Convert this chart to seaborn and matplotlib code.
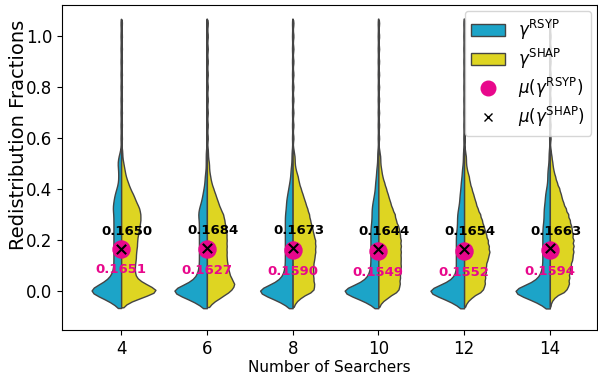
import numpy as np
import pandas as pd
import seaborn as sns
import matplotlib.pyplot as plt
from matplotlib.patches import Patch
from matplotlib.lines import Line2D

# Categories
searchers = [4, 6, 8, 10, 12, 14]

# Value levels used to rebuild the sample distributions
levels = [-0.05, -0.025, 0.0, 0.025, 0.05, 0.075, 0.1, 0.125, 0.15, 0.175,
          0.2, 0.225, 0.25, 0.275, 0.3, 0.325, 0.35, 0.375, 0.4, 0.425,
          0.45, 0.475, 0.5, 0.525, 0.55]
tail_levels = [0.6, 0.65, 0.7, 0.75, 0.8, 0.85, 0.9, 0.95, 1.0, 1.05]

# Counts per level, gamma RSYP (blue half)
rsyp_counts = [
    [8, 21, 38, 22, 12, 9, 8, 8, 8, 8, 8, 8, 8, 8, 8, 9, 8, 7, 5, 3, 3, 3, 4, 3, 1],
    [8, 20, 37, 18, 10, 8, 7, 7, 7, 7, 7, 7, 7, 7, 8, 7, 5, 4, 3, 2, 2, 1, 1, 1, 1],
    [8, 21, 38, 18, 10, 8, 7, 7, 7, 7, 7, 7, 7, 7, 7, 6, 6, 5, 4, 3, 2, 2, 1, 1, 1],
    [8, 21, 39, 18, 10, 8, 7, 7, 7, 7, 7, 7, 7, 6, 6, 6, 5, 4, 3, 3, 2, 2, 1, 1, 1],
    [8, 20, 38, 17, 9, 7, 7, 7, 7, 7, 7, 7, 6, 6, 6, 5, 4, 4, 3, 3, 2, 2, 1, 1, 1],
    [8, 20, 37, 16, 9, 7, 6, 6, 6, 6, 6, 6, 6, 5, 5, 5, 4, 4, 3, 2, 2, 2, 1, 1, 1],
]
rsyp_tail = [
    [1, 1, 1, 1, 1, 1, 1, 1, 1, 1],
    [1, 1, 1, 1, 1, 1, 1, 1, 1, 1],
    [1, 1, 1, 1, 1, 1, 1, 1, 1, 1],
    [1, 1, 1, 1, 1, 1, 1, 1, 1, 1],
    [1, 1, 1, 1, 1, 1, 1, 1, 1, 1],
    [1, 1, 1, 1, 1, 1, 1, 1, 1, 1],
]

# Counts per level, gamma SHAP (yellow half)
shap_counts = [
    [4, 19, 35, 22, 13, 12, 12, 13, 13, 14, 14, 15, 16, 17, 17, 16, 13, 11, 8, 6, 4, 3, 2, 1, 1],
    [4, 13, 22, 26, 22, 20, 19, 18, 18, 18, 18, 18, 17, 16, 15, 12, 10, 8, 6, 4, 3, 2, 2, 1, 1],
    [2, 8, 21, 21, 20, 20, 20, 21, 22, 22, 22, 20, 19, 17, 16, 14, 12, 10, 8, 6, 5, 3, 2, 2, 1],
    [2, 10, 21, 22, 22, 23, 23, 23, 23, 23, 23, 22, 21, 18, 17, 14, 12, 10, 8, 6, 4, 3, 2, 2, 1],
    [2, 8, 20, 22, 22, 23, 23, 25, 27, 26, 25, 23, 21, 19, 17, 14, 12, 10, 8, 6, 5, 3, 2, 2, 1],
    [1, 5, 19, 22, 22, 23, 24, 26, 27, 27, 27, 26, 25, 23, 21, 18, 15, 13, 11, 8, 6, 4, 3, 2, 1],
]
shap_tail = [
    [1, 1, 1, 1, 1, 1, 1, 1, 1, 1],
    [1, 1, 1, 1, 1, 1, 1, 1, 1, 1],
    [1, 1, 1, 1, 1, 1, 1, 1, 1, 1],
    [1, 1, 1, 1, 1, 1, 1, 1, 1, 1],
    [1, 1, 1, 1, 1, 1, 1, 1, 1, 1],
    [1, 1, 1, 1, 1, 1, 1, 1, 1, 1],
]

# Means shown on the chart
rsyp_mean = [0.1651, 0.1627, 0.1590, 0.1549, 0.1552, 0.1594]
shap_mean = [0.1650, 0.1684, 0.1673, 0.1644, 0.1654, 0.1663]

blue = "#1ca4c8"
yellow = "#ded522"
magenta = "#e8088c"

# Build long-form sample table
rows = []
for i, n in enumerate(searchers):
    for method, counts, tail in [("RSYP", rsyp_counts[i], rsyp_tail[i]),
                                 ("SHAP", shap_counts[i], shap_tail[i])]:
        vals = np.concatenate([np.repeat(levels, counts), np.repeat(tail_levels, tail)])
        rows.append(pd.DataFrame({"searchers": n, "method": method, "value": vals}))
df = pd.concat(rows, ignore_index=True)

fig = plt.figure(figsize=(5.98, 3.75), dpi=100)
ax = fig.add_axes([62 / 598, 1 - 330 / 375, (597 - 62) / 598, (330 - 5) / 375])

sns.violinplot(data=df, x="searchers", y="value", hue="method", split=True,
               inner=None, palette=[blue, yellow], saturation=1, linewidth=1,
               linecolor="#444444", bw_adjust=0.25, cut=1, legend=False, ax=ax)

xs = np.arange(len(searchers))
ax.scatter(xs, rsyp_mean, s=150, color=magenta, zorder=3)
ax.scatter(xs, shap_mean, s=45, marker="x", color="black", linewidths=1.5, zorder=4)

for i in range(len(searchers)):
    ax.text(i + 0.07, shap_mean[i] + 0.068, f"{shap_mean[i]:.4f}", ha="center",
            va="center", fontsize=9.5, fontweight="bold", color="black", zorder=5)
    ax.text(i, rsyp_mean[i] - 0.082, f"{rsyp_mean[i]:.4f}", ha="center",
            va="center", fontsize=9.5, fontweight="bold", color=magenta, zorder=5)

ax.set_xlim(-0.69, 5.55)
ax.set_ylim(-0.154, 1.122)
ax.set_xlabel("Number of Searchers", fontsize=11, labelpad=2)
ax.set_ylabel("Redistribution Fractions", fontsize=14)
ax.yaxis.set_label_coords(-0.063, 0.6)
ax.tick_params(labelsize=12)

handles = [
    Patch(facecolor=blue, edgecolor="#444444", label=r"$\gamma^{\mathrm{RSYP}}$"),
    Patch(facecolor=yellow, edgecolor="#444444", label=r"$\gamma^{\mathrm{SHAP}}$"),
    Line2D([], [], marker="o", linestyle="", color=magenta, markersize=10.5,
           label=r"$\mu(\gamma^{\mathrm{RSYP}})$"),
    Line2D([], [], marker="x", linestyle="", color="black", markersize=6,
           label=r"$\mu(\gamma^{\mathrm{SHAP}})$"),
]
ax.legend(handles=handles, loc="upper right", fontsize=12, labelspacing=0.3,
          borderaxespad=0.35)

fig.savefig("out.png", dpi=100)
